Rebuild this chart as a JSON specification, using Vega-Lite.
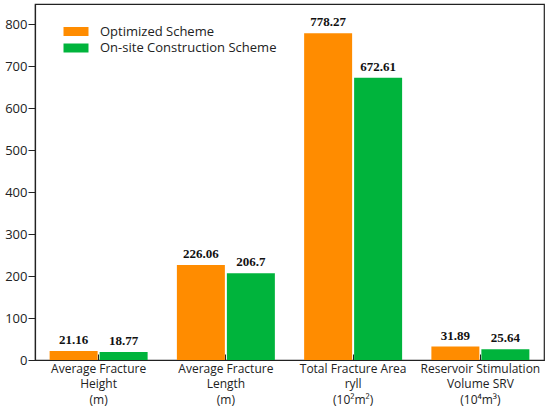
{
  "$schema": "https://vega.github.io/schema/vega-lite/v6.json",
  "width": 509,
  "height": 356,
  "autosize": {"type": "none"},
  "padding": {"left": 35, "top": 4, "right": 6, "bottom": 49},
  "background": "white",
  "config": {
    "view": {"stroke": "#222222", "strokeWidth": 1.2},
    "font": "Open Sans"
  },
  "data": {
    "values": [
      {"param": "Average Fracture|Height|(m)", "scheme": "Optimized Scheme", "value": 21.16},
      {"param": "Average Fracture|Height|(m)", "scheme": "On-site Construction Scheme", "value": 18.77},
      {"param": "Average Fracture|Length|(m)", "scheme": "Optimized Scheme", "value": 226.06},
      {"param": "Average Fracture|Length|(m)", "scheme": "On-site Construction Scheme", "value": 206.7},
      {"param": "Total Fracture Area|ryll|(10²m²)", "scheme": "Optimized Scheme", "value": 778.27},
      {"param": "Total Fracture Area|ryll|(10²m²)", "scheme": "On-site Construction Scheme", "value": 672.61},
      {"param": "Reservoir Stimulation|Volume SRV|(10⁴m³)", "scheme": "Optimized Scheme", "value": 31.89},
      {"param": "Reservoir Stimulation|Volume SRV|(10⁴m³)", "scheme": "On-site Construction Scheme", "value": 25.64}
    ]
  },
  "encoding": {
    "x": {
      "field": "param",
      "type": "nominal",
      "sort": null,
      "scale": {"paddingInner": 0.23, "paddingOuter": 0.115},
      "axis": {
        "title": null,
        "labelAngle": 0,
        "labelExpr": "split(datum.label, '|')",
        "labelFontSize": 12,
        "labelColor": "#222222",
        "labelLineHeight": 15.5,
        "labelPadding": 9,
        "tickSize": -6,
        "tickColor": "#222222",
        "domainColor": "#222222",
        "domainWidth": 1.2,
        "labelLimit": 200
      }
    },
    "xOffset": {
      "field": "scheme",
      "type": "nominal",
      "sort": ["Optimized Scheme", "On-site Construction Scheme"],
      "scale": {"paddingInner": 0.04}
    },
    "y": {
      "field": "value",
      "type": "quantitative",
      "scale": {"domain": [0, 848], "nice": false},
      "axis": {
        "title": null,
        "values": [0, 100, 200, 300, 400, 500, 600, 700, 800],
        "grid": false,
        "labelFontSize": 13,
        "labelColor": "#222222",
        "tickSize": 7,
        "tickColor": "#222222",
        "domainColor": "#222222",
        "domainWidth": 1.2,
        "labelPadding": 1
      }
    }
  },
  "layer": [
    {
      "mark": {"type": "bar"},
      "encoding": {
        "color": {
          "field": "scheme",
          "type": "nominal",
          "sort": ["Optimized Scheme", "On-site Construction Scheme"],
          "scale": {"range": ["#ff8c00", "#00b43c"]},
          "legend": {
            "title": null,
            "orient": "none",
            "legendX": 34.5,
            "legendY": 21,
            "padding": 0,
            "symbolType": "M-2.5,-0.9H2.5V0.9H-2.5Z",
            "symbolSize": 100,
            "symbolStrokeWidth": 0,
            "symbolOpacity": 1,
            "labelFontSize": 13,
            "labelColor": "#222222",
            "labelOffset": 17.5,
            "rowPadding": 2.5,
            "labelLimit": 300
          }
        }
      }
    },
    {
      "mark": {
        "type": "text",
        "baseline": "bottom",
        "dy": -4,
        "font": "Liberation Serif",
        "fontWeight": "bold",
        "fontSize": 13,
        "color": "#111111"
      },
      "encoding": {
        "text": {"field": "value", "type": "nominal"}
      }
    }
  ]
}
